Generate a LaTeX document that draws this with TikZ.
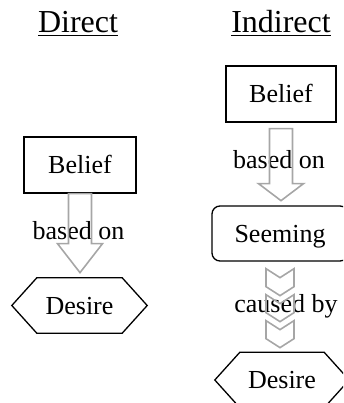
\documentclass[tikz,border=0pt]{standalone}
\usepackage{fontspec}
\setmainfont{Liberation Serif}
\usetikzlibrary{calc}
\definecolor{arrgray}{RGB}{166,166,166}
\begin{document}
\begin{tikzpicture}[x=1pt,y=-1pt,
  blk/.style={draw=black,line width=1.3pt},
  garr/.style={draw=arrgray,line width=1.6pt,line join=miter},
  lbl/.style={font=\fontsize{26}{30}\selectfont,inner sep=0pt,anchor=base},
  boxtxt/.style={font=\fontsize{26}{30}\selectfont,inner sep=0pt,text height=17pt,text depth=0pt},
  title/.style={font=\fontsize{32}{38}\selectfont,inner sep=0pt,anchor=base}]
\useasboundingbox (0,0) rectangle (343,403);
\clip (0,0) rectangle (343,403);
% titles
\node[title] (t1) at (78,33) {\underline{Direct}};
\node[title] (t2) at (281,33) {\underline{Indirect}};
% boxes
\node[boxtxt,blk,minimum width=110pt,minimum height=56pt] (b2) at (281,94) {Belief};
\node[boxtxt,blk,minimum width=112pt,minimum height=56pt] (b1) at (80,165) {Belief};
\node[boxtxt,blk,rounded corners=8pt,minimum width=136pt,minimum height=55pt] (s2) at (280,233.5) {Seeming};
\node[boxtxt,minimum width=135pt,minimum height=55pt] (d1) at (79.5,305.5) {Desire};
\node[boxtxt,minimum width=134pt,minimum height=55pt] (d2) at (282,380) {Desire};
% hexagons
\draw[blk] (d1.west) -- ($(d1.north west)+(25,0)$) -- ($(d1.north east)+(-25,0)$) -- (d1.east)
  -- ($(d1.south east)+(-25,0)$) -- ($(d1.south west)+(25,0)$) -- cycle;
\draw[blk] (d2.west) -- ($(d2.north west)+(25,0)$) -- ($(d2.north east)+(-25,0)$) -- (d2.east)
  -- ($(d2.south east)+(-25,0)$) -- ($(d2.south west)+(25,0)$) -- cycle;
% labels
\node[lbl] (l1) at (78.5,239) {based on};
\node[lbl] (l2) at (279,168) {based on};
\node[lbl] (l3) at (286,312) {caused by};
% block arrows
\draw[garr] ($(b1.south)+(-11.5,0)$) -- ++(0,50) -- ++(-11,0) -- ($(b1.south)+(0,79)$)
  -- ($(b1.south)+(22.5,50)$) -- ++(-11,0) -- ($(b1.south)+(11.5,0)$) -- cycle;
\coordinate (a2) at ($(b2.south)+(0,6)$);
\draw[garr] ($(a2)+(-11.5,0)$) -- ++(0,55) -- ++(-11,0) -- ($(a2)+(0,72)$)
  -- ($(a2)+(22.5,55)$) -- ++(-11,0) -- ($(a2)+(11.5,0)$) -- cycle;
% chevrons
\foreach \k in {0,1,2}{
  \coordinate (c\k) at ($(s2.south)+(0,7+26*\k)$);
  \draw[garr] ($(c\k)+(-14,0)$) -- ($(c\k)+(0,9)$) -- ($(c\k)+(14,0)$) -- ($(c\k)+(14,18)$)
    -- ($(c\k)+(0,27)$) -- ($(c\k)+(-14,18)$) -- cycle;
}
\end{tikzpicture}
\end{document}
